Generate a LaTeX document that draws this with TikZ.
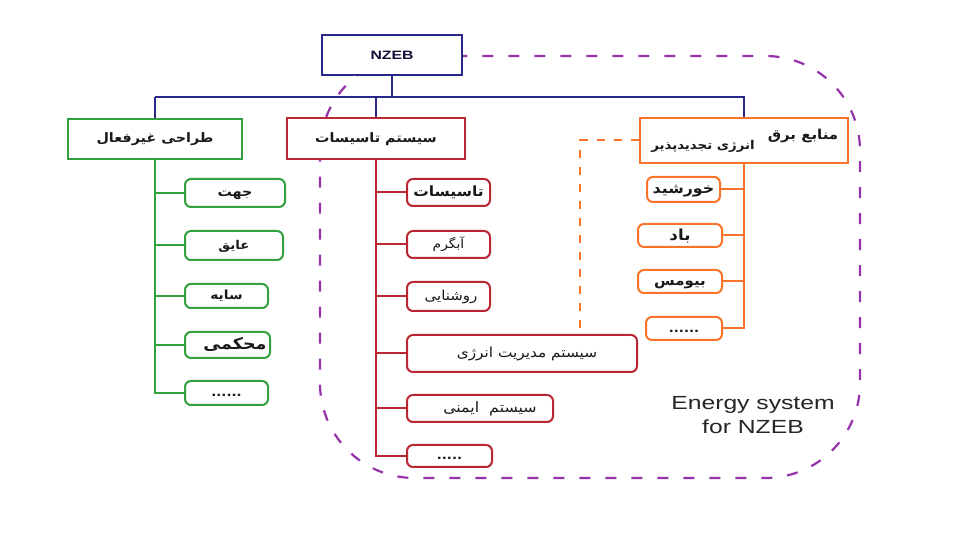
\documentclass[tikz,border=0pt]{standalone}
\usepackage{fontspec}
\setmainfont{Liberation Sans}
\newfontfamily\arabicfont[Script=Arabic]{DejaVu Sans}
\TeXXeTstate=1
\newcommand{\fa}[2]{\raisebox{-0.34\dimexpr #1pt\relax}[0pt][0pt]{\scalebox{1.1}[1]{\arabicfont\fontsize{1.136\dimexpr #1pt\relax}{#1pt}\selectfont #2}}}
\newcommand{\fab}[2]{\raisebox{-0.34\dimexpr #1pt\relax}[0pt][0pt]{\scalebox{1.1}[1]{\arabicfont\bfseries\fontsize{1.136\dimexpr #1pt\relax}{#1pt}\selectfont #2}}}
\definecolor{navy}{RGB}{40,40,140}
\definecolor{grn}{RGB}{50,160,60}
\definecolor{dred}{RGB}{185,40,50}
\definecolor{orng}{RGB}{250,115,40}
\definecolor{purp}{RGB}{150,50,170}
\definecolor{txt}{RGB}{25,25,25}
\begin{document}
\begin{tikzpicture}[x=0.75pt,y=-0.75pt,
  mainbox/.style={draw, line width=1.9pt, fill=white, inner sep=0pt, text=txt},
  subbox/.style={draw, line width=1.5pt, fill=white, rounded corners=4.5pt, inner sep=0pt, text=txt},
  conn/.style={line width=1.5pt},
  plain/.style={inner sep=0pt, text=txt}]
\fill[white] (0,0) rectangle (964,534);
\useasboundingbox (0,0) rectangle (964,534);
% purple dashed region
\draw[purp, line width=1.65pt, dash pattern=on 8.25pt off 11.25pt, rounded corners=71pt]
  (320,56) rectangle (860,478);
% bus
\coordinate (busL) at (155,97);
\coordinate (busR) at (745,97);
\coordinate (dx) at (580,0);
% main boxes
\node[mainbox, draw=navy, minimum width=105pt, minimum height=30pt] (nzeb) at (392,55) {};
\node[plain, text=navy!40!black] (nzebt) at (392,55) {\scalebox{1.3}[1]{\bfseries\fontsize{9.1}{10}\selectfont NZEB}};
\node[mainbox, draw=grn, minimum width=130.5pt, minimum height=30pt] (gmain) at (155,139) {\fab{8.6}{\beginR طراحی غیرفعال\endR}};
\node[mainbox, draw=dred, minimum width=133.5pt, minimum height=30.75pt] (rmain) at (376,138.5) {\fab{8.6}{\beginR سیستم تاسیسات\endR}};
\node[mainbox, draw=orng, minimum width=156pt, minimum height=33.75pt] (omain) at (744,140.5) {};
\node[plain] (ot1) at (803,135) {\fab{9}{\beginR منابع برق\endR}};
\node[plain] (ot2) at (703,146) {\fab{8}{\beginR انرژی تجدیدپذیر\endR}};
% green children
\node[subbox, draw=grn, minimum width=75pt, minimum height=21pt] (g1) at (235,193) {\fab{8.6}{\beginR جهت\endR}};
\node[subbox, draw=grn, minimum width=73.5pt, minimum height=21.75pt] (g2) at (234,245.5) {\fab{8}{\beginR عایق\endR}};
\node[subbox, draw=grn, minimum width=62.25pt, minimum height=18pt] (g3) at (226.5,296) {\fab{8.3}{\beginR سایه\endR}};
\node[subbox, draw=grn, minimum width=63.75pt, minimum height=19.5pt] (g4) at (227.5,345) {};
\node[plain] (g4t) at (235,345) {\fab{10.5}{\beginR محکمی\endR}};
\node[subbox, draw=grn, minimum width=62.25pt, minimum height=18pt] (g5) at (226.5,393) {\fab{8}{......}};
% red children
\node[subbox, draw=dred, minimum width=62.25pt, minimum height=20.25pt] (r1) at (448.5,192.5) {\fab{9.3}{\beginR تاسیسات\endR}};
\node[subbox, draw=dred, minimum width=62.25pt, minimum height=20.25pt] (r2) at (448.5,244.5) {\fa{8.3}{\beginR آبگرم\endR}};
\node[subbox, draw=dred, minimum width=62.25pt, minimum height=21.75pt] (r3) at (448.5,296.5) {};
\node[plain] (r3t) at (451,296.5) {\fa{9}{\beginR روشنایی\endR}};
\node[subbox, draw=dred, minimum width=172.5pt, minimum height=27.75pt] (r4) at (522,353.5) {};
\node[plain] (r4t) at (527,353.5) {\fa{9.2}{\beginR سیستم مدیریت انرژی\endR}};
\node[subbox, draw=dred, minimum width=109.5pt, minimum height=20.25pt] (r5) at (480,408.5) {};
\node[plain] (r5t) at (490,408.5) {\fa{9.5}{\beginR سیستم\ \ ایمنی\endR}};
\node[subbox, draw=dred, minimum width=63.75pt, minimum height=16.5pt] (r6) at (449.5,456) {\fab{8}{.....}};
% orange children
\node[subbox, draw=orng, minimum width=54.75pt, minimum height=18.75pt] (o1) at (683.5,189.5) {\fab{9.5}{\beginR خورشید\endR}};
\node[subbox, draw=orng, minimum width=63pt, minimum height=17.25pt] (o2) at (680,235.5) {\fab{10}{\beginR باد\endR}};
\node[subbox, draw=orng, minimum width=63pt, minimum height=17.25pt] (o3) at (680,281.5) {\fab{9}{\beginR بیومس\endR}};
\node[subbox, draw=orng, minimum width=57pt, minimum height=17.25pt] (o4) at (684,328.5) {\fab{8}{......}};
% connectors
\draw[navy, conn] (busL) -- (busR);
\draw[navy, conn] (nzeb.south) -- (nzeb.south |- busL);
\draw[navy, conn] (busL) -- (gmain.north);
\draw[navy, conn] (rmain.north |- busL) -- (rmain.north);
\draw[navy, conn] (omain.north |- busL) -- (omain.north);
\draw[grn, conn] (gmain.south) |- (g5.west);
\foreach \n in {g1,g2,g3,g4} \draw[grn, conn] (gmain.south |- \n.west) -- (\n.west);
\draw[dred, conn] (rmain.south) |- (r6.west);
\foreach \n in {r1,r2,r3,r4,r5} \draw[dred, conn] (rmain.south |- \n.west) -- (\n.west);
\draw[orng, conn] (omain.south) |- (o4.east);
\foreach \n in {o1,o2,o3} \draw[orng, conn] (omain.south |- \n.east) -- (\n.east);
\draw[orng, line width=1.5pt, dash pattern=on 6pt off 6.75pt] (omain.west) -| (r4.north -| dx);
% label
\node[plain, text=black!85] (en1) at (753,405) {\scalebox{1.3}[1]{\fontsize{14.25}{16}\selectfont Energy system}};
\node[plain, text=black!85] (en2) at (753,427) {\scalebox{1.3}[1]{\fontsize{14.25}{16}\selectfont for NZEB}};
\end{tikzpicture}
\end{document}
